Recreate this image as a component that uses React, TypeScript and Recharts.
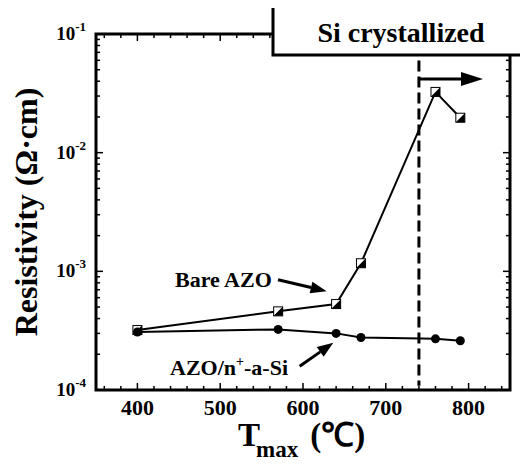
import { Line, LineChart, ReferenceLine, XAxis, YAxis } from "recharts";

const temps = [400, 570, 640, 670, 760, 790];
const bareAZO = [3.2e-4, 4.6e-4, 5.3e-4, 1.17e-3, 3.25e-2, 1.97e-2];
const azoSi = [3.08e-4, 3.24e-4, 3.0e-4, 2.77e-4, 2.7e-4, 2.6e-4];

const xMajor = [400, 500, 600, 700, 800];
const xTicks = [360, 380, 400, 420, 440, 460, 480, 500, 520, 540, 560, 580, 600, 620, 640, 660, 680, 700, 720, 740, 760, 780, 800, 820, 840];
const yMajor = [1e-4, 1e-3, 1e-2, 1e-1];
const yExp = ["-4", "-3", "-2", "-1"];
const yMinor = yMajor.slice(0, 3).flatMap((d) => [2, 3, 4, 5, 6, 7, 8, 9].map((m) => m * d));

const xDomain = [350, 850];
const yDomain = [1e-4, 1e-1];
const crystalT = 740;

const data = temps.map((t, i) => ({ t, bare: bareAZO[i], si: azoSi[i] }));

const FONT = "Liberation Serif, Times New Roman, serif";

// plot box inside the 528x465 chart (margins + axis sizes below)
const PLOT = { left: 96, top: 34, right: 510, bottom: 390 };
const px = (x: number) => PLOT.left + ((x - xDomain[0]) / (xDomain[1] - xDomain[0])) * (PLOT.right - PLOT.left);
const py = (v: number) =>
  PLOT.top +
  ((Math.log10(yDomain[1]) - Math.log10(v)) / (Math.log10(yDomain[1]) - Math.log10(yDomain[0]))) * (PLOT.bottom - PLOT.top);

function LeftLabel({ x, y, payload }: any) {
  const i = yMajor.findIndex((m) => Math.abs(payload.value - m) / m < 1e-6);
  if (i < 0) return <g />;
  return (
    <text x={x - 10} y={y + 6} textAnchor="end" fontFamily={FONT} fontWeight="bold" fontSize={19} fill="#000">
      10
      <tspan dy={-9} fontSize={13}>{yExp[i]}</tspan>
    </text>
  );
}

function BottomLabel({ x, y, payload }: any) {
  return (
    <text x={x} y={y + 25} textAnchor="middle" fontFamily={FONT} fontWeight="bold" fontSize={22} fill="#000">
      {payload.value}
    </text>
  );
}

function SquareDot(props: any) {
  const { cx, cy, index } = props;
  const s = 4.5;
  return (
    <g key={`sq-${index}`}>
      <rect x={cx - s} y={cy - s} width={2 * s} height={2 * s} fill="#fff" stroke="#000" strokeWidth={1} />
      <polygon points={`${cx + s},${cy - s} ${cx + s},${cy + s} ${cx - s},${cy + s}`} fill="#000" />
    </g>
  );
}

function Arrow({ x1, y1, x2, y2, head = 16, half = 6 }: any) {
  const len = Math.hypot(x2 - x1, y2 - y1);
  const ux = (x2 - x1) / len;
  const uy = (y2 - y1) / len;
  const bx = x2 - head * ux;
  const by = y2 - head * uy;
  return (
    <g>
      <line x1={x1} y1={y1} x2={bx} y2={by} stroke="#000" strokeWidth={3} />
      <polygon points={`${x2},${y2} ${bx - half * uy},${by + half * ux} ${bx + half * uy},${by - half * ux}`} fill="#000" />
    </g>
  );
}

function Frame() {
  const t = { stroke: "#000", strokeWidth: 1.5 };
  return (
    <g>
      {[...yMajor, ...yMinor].map((v) => {
        const L = yMajor.includes(v) ? 7 : 4;
        const y = py(v);
        return (
          <g key={`y${v}`}>
            <line x1={PLOT.left} x2={PLOT.left + L} y1={y} y2={y} {...t} />
            <line x1={PLOT.right - L} x2={PLOT.right} y1={y} y2={y} {...t} />
          </g>
        );
      })}
      {xTicks.map((v) => {
        const L = xMajor.includes(v) ? 7 : 4;
        const x = px(v);
        return (
          <g key={`x${v}`}>
            <line x1={x} x2={x} y1={PLOT.bottom} y2={PLOT.bottom - L} {...t} />
            <line x1={x} x2={x} y1={PLOT.top} y2={PLOT.top + L} {...t} />
          </g>
        );
      })}
      <rect
        x={PLOT.left}
        y={PLOT.top}
        width={PLOT.right - PLOT.left}
        height={PLOT.bottom - PLOT.top}
        fill="none"
        stroke="#000"
        strokeWidth={3}
      />
    </g>
  );
}

export default function App() {
  return (
    <div style={{ position: "relative", margin: -8, width: 528, height: 465, background: "#fff" }}>
      <LineChart width={528} height={465} data={data} margin={{ top: 34, right: 18, bottom: 0, left: 0 }}>
        <XAxis
          xAxisId="b"
          dataKey="t"
          type="number"
          domain={xDomain}
          ticks={xMajor}
          interval={0}
          height={75}
          tickSize={0}
          tickMargin={0}
          axisLine={false}
          tickLine={false}
          tick={BottomLabel}
        />
        <YAxis
          yAxisId="l"
          scale="log"
          type="number"
          domain={yDomain}
          ticks={yMajor}
          interval={0}
          width={96}
          tickSize={0}
          tickMargin={0}
          axisLine={false}
          tickLine={false}
          tick={LeftLabel}
        />
        <ReferenceLine
          xAxisId="b"
          yAxisId="l"
          segment={[
            { x: crystalT, y: 0.0597 },
            { x: crystalT, y: 1.087e-4 },
          ]}
          stroke="#000"
          strokeWidth={3}
          strokeDasharray="11 5"
          ifOverflow="visible"
        />
        <Line
          xAxisId="b"
          yAxisId="l"
          dataKey="bare"
          stroke="#000"
          strokeWidth={2}
          dot={SquareDot}
          isAnimationActive={false}
        />
        <Line
          xAxisId="b"
          yAxisId="l"
          dataKey="si"
          stroke="#000"
          strokeWidth={2}
          dot={{ r: 4.5, fill: "#000", stroke: "#000", strokeWidth: 0 }}
          isAnimationActive={false}
        />
      </LineChart>
      <svg width={528} height={465} style={{ position: "absolute", left: 0, top: 0, pointerEvents: "none" }}>
        <Frame />
        <rect x={273} y={5} width={270} height={50} fill="#fff" stroke="#000" strokeWidth={3} />
        <text x={401} y={42} textAnchor="middle" fontFamily={FONT} fontWeight="bold" fontSize={28} fill="#000">
          Si crystallized
        </text>
        <Arrow x1={419} y1={79} x2={483} y2={79} head={22} half={7} />
        <text x={175} y={287} fontFamily={FONT} fontWeight="bold" fontSize={22} fill="#000">
          Bare AZO
        </text>
        <Arrow x1={278} y1={279.7} x2={326.6} y2={291.2} />
        <text x={170} y={375} fontFamily={FONT} fontWeight="bold" fontSize={22} fill="#000">
          AZO/n
          <tspan dy={-9} fontSize={14}>+</tspan>
          <tspan dy={9}>-a-Si</tspan>
        </text>
        <Arrow x1={299.7} y1={366.3} x2={333.3} y2={342.7} />
        <text
          transform="translate(37, 212) rotate(-90)"
          textAnchor="middle"
          fontFamily={FONT}
          fontWeight="bold"
          fontSize={32}
          fill="#000"
        >
          Resistivity (Ω·cm)
        </text>
        <text x={238} y={446} fontFamily={FONT} fontWeight="bold" fontSize={33} fill="#000">
          T
          <tspan dx={-4} dy={11} fontSize={23}>max</tspan>
          <tspan dx={12} dy={-11}>(℃)</tspan>
        </text>
      </svg>
    </div>
  );
}
